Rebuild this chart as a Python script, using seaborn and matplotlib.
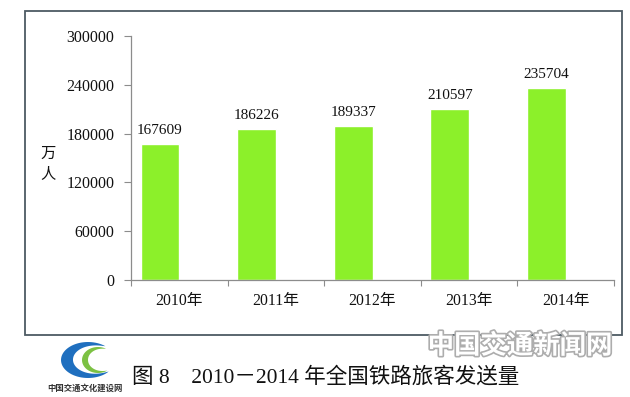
import numpy as np
import matplotlib
matplotlib.use("Agg")
import matplotlib.pyplot as plt
import matplotlib.patheffects as pe
from matplotlib.patches import Rectangle, Polygon
import seaborn as sns

# ---- data ----
years = ["2010年", "2011年", "2012年", "2013年", "2014年"]
passengers = [167609, 186226, 189337, 210597, 235704]
y_ticks = [0, 60000, 120000, 180000, 240000, 300000]
y_unit = "万\n人"
caption = "图 8　2010－2014 年全国铁路旅客发送量"
watermark = "中国交通新闻网"
logo_text = "中国交通文化建设网"

sns.set_theme(style="white")
SERIF = ["Liberation Serif", "Noto Sans CJK SC", "DejaVu Sans"]
CJK = ["Noto Sans CJK SC", "DejaVu Sans"]
plt.rcParams["font.family"] = SERIF

W, H = 630, 397
fig = plt.figure(figsize=(W / 100, H / 100), dpi=100)

def fx(x):
    return x / W

def fy(y):
    return 1 - y / H

# outer frame
fig.patches.append(Rectangle((fx(25), fy(335)), fx(622) - fx(25), fy(11) - fy(335),
                             transform=fig.transFigure, fill=False,
                             edgecolor="#4d5a63", linewidth=1.3, zorder=0))

ax = fig.add_axes([fx(131), fy(280), fx(614) - fx(131), fy(36) - fy(280)])
ax.set_facecolor("none")

sns.barplot(x=years, y=passengers, color="#8CF02A", saturation=1, width=0.4, ax=ax)
for c in ax.containers:
    ax.bar_label(c, fmt="%d", padding=5, fontsize=11, family=SERIF, color="#111111")

ax.set_ylim(0, 300000)
ax.set_xlim(-0.3, 4.7)
ax.set_yticks(y_ticks)
ax.set_yticklabels([str(t) for t in y_ticks], fontsize=11.5, color="#111111")

bounds = [i - 0.3 for i in range(len(years) + 1)]
centers = [i + 0.2 for i in range(len(years))]
ax.set_xticks(bounds)
ax.set_xticklabels([])
ax.set_xticks(centers, minor=True)
ax.set_xticklabels(years, minor=True, fontsize=11.3, color="#111111")
ax.tick_params(axis="x", which="major", length=4, width=0.8, color="#8c8c8c", direction="out", bottom=True)
ax.tick_params(axis="x", which="minor", length=0, pad=9)
ax.tick_params(axis="y", length=5, width=0.8, color="#8c8c8c", direction="out", pad=7, left=True)

for s in ["top", "right"]:
    ax.spines[s].set_visible(False)
for s in ["left", "bottom"]:
    ax.spines[s].set_color("#8c8c8c")
    ax.spines[s].set_linewidth(0.9)
ax.set_xlabel("")
ax.set_ylabel("")

fig.text(fx(48), fy(163), y_unit, ha="center", va="center", fontsize=11,
         family=CJK, linespacing=1.25, color="#111111")

# caption
fig.text(fx(132), fy(377), caption, ha="left", va="center", fontsize=15.5,
         family=SERIF, color="#111111")

# watermark
fig.text(fx(520), fy(346), watermark, ha="center", va="center", fontsize=19,
         family=CJK, fontweight="bold", color="white",
         path_effects=[pe.withStroke(linewidth=2.4, foreground="#adadad")])

# logo
def crescent(cx, cy, rx, ry, a0, a1, d):
    t = np.linspace(np.radians(a0), np.radians(a1), 60)
    w = np.sin(np.pi * (t - t[0]) / (t[-1] - t[0])) ** 0.8
    ox = cx + rx * np.cos(t)
    oy = cy + ry * np.sin(t)
    ix = cx + (rx - d * w) * np.cos(t)
    iy = cy + (ry - d * w * ry / rx) * np.sin(t)
    xs = np.concatenate([ox, ix[::-1]])
    ys = np.concatenate([oy, iy[::-1]])
    return np.column_stack([xs / W, ys / H])

# coordinates in pixels with y measured upward from bottom
fig.patches.append(Polygon(crescent(88, 397 - 360, 27, 18, 50, 320, 12),
                           closed=True, transform=fig.transFigure,
                           facecolor="#1f6fbf", edgecolor="none"))
fig.patches.append(Polygon(crescent(98, 397 - 360, 16, 13, 60, 305, 6),
                           closed=True, transform=fig.transFigure,
                           facecolor="#7cc143", edgecolor="none"))
fig.text(fx(85), fy(388), logo_text, ha="center", va="center", fontsize=6,
         family=CJK, fontweight="bold", color="#333333", style="italic")

fig.savefig("out.png", dpi=100)
